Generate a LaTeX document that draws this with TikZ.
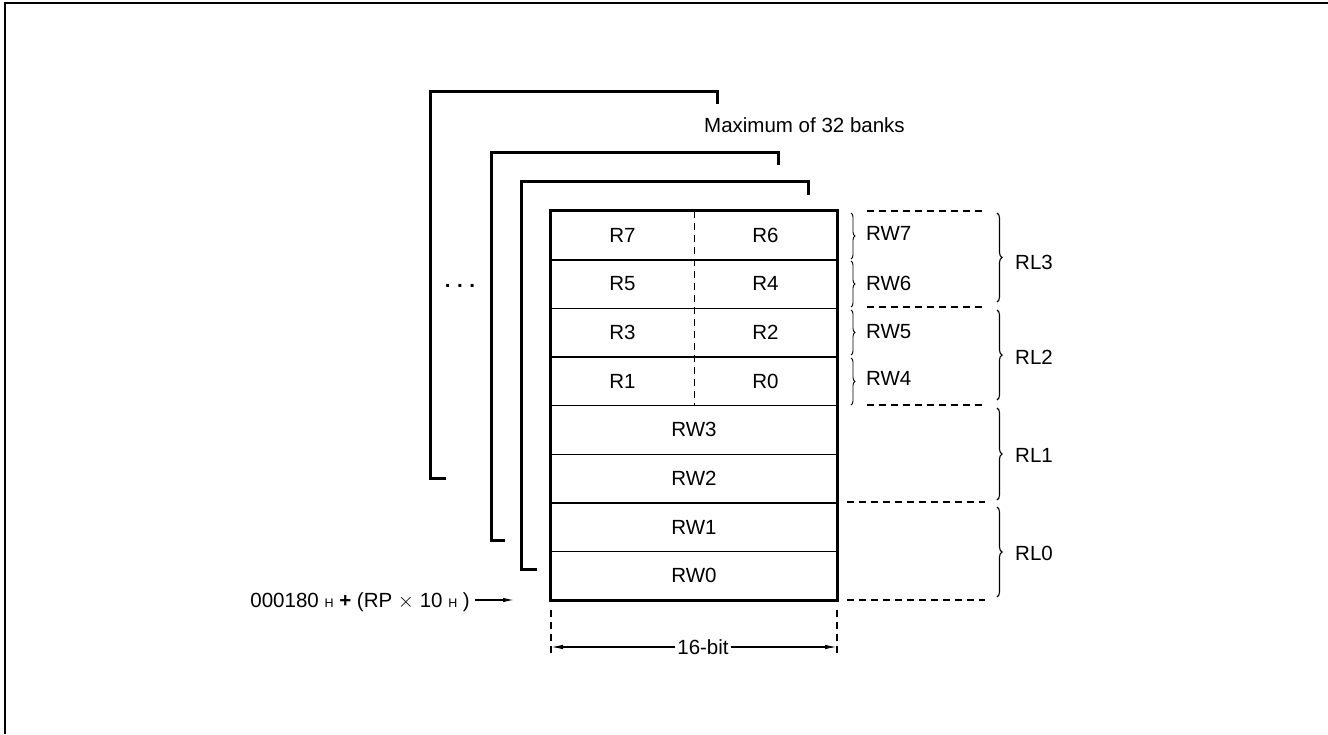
\documentclass[tikz,border=0pt]{standalone}
\usepackage{fontspec}
\setmainfont{Liberation Sans}
\usetikzlibrary{arrows.meta,decorations.pathreplacing}
\newcommand{\hsub}{\fontsize{12.5}{15}\selectfont}

\begin{document}
\begin{tikzpicture}
[x=1pt, y=-1pt,
 every node/.style={inner sep=0pt, font=\fontsize{20.5}{24}\selectfont},
 half/.style={rectangle, minimum width=143pt, minimum height=48.625pt},
 full/.style={rectangle, minimum width=286pt, minimum height=48.625pt},
 rowline/.style={line width=1.5pt},
 boxline/.style={line width=3pt},
 bank/.style={line width=3pt},
 guide/.style={line width=1.4pt, dash pattern=on 7pt off 5pt},
 smallbrace/.style={decorate, decoration={brace, amplitude=4pt}, line width=0.9pt},
 bigbrace/.style={decorate, decoration={brace, amplitude=5pt}, line width=1.1pt},
 dimarrow/.style={line width=1.2pt, -{Latex[length=12pt, width=4.5pt]}}]
\useasboundingbox (0,0) rectangle (1328,734);
\draw [line width=2pt] (5,734) -- (5,3) -- (1328,3);
% banks behind
\draw [bank] (446,478) -- (430,478) -- (430,91) -- (717,91) -- (717,104);
\draw [bank] (505,540) -- (491,540) -- (491,152) -- (778,152) -- (778,165);
\draw [bank] (537,569) -- (521,569) -- (521,181) -- (808,181) -- (808,195);
\node (max) [anchor=west] at (704,125) {Maximum of 32 banks};
\node (dots) [anchor=base] at (460,287) {\textbf{.}\hspace{6.5pt}\textbf{.}\hspace{6.5pt}\textbf{.}};
% register cells
\node (r7) [half] at (622.5, 235.3) {R7};
\node (r6) [half] at (765.5, 235.3) {R6};
\node (r5) [half] at (622.5, 283.9) {R5};
\node (r4) [half] at (765.5, 283.9) {R4};
\node (r3) [half] at (622.5, 332.6) {R3};
\node (r2) [half] at (765.5, 332.6) {R2};
\node (r1) [half] at (622.5, 381.2) {R1};
\node (r0) [half] at (765.5, 381.2) {R0};
\node (rw3) [full] at (694, 429.8) {RW3};
\node (rw2) [full] at (694, 478.4) {RW2};
\node (rw1) [full] at (694, 527.1) {RW1};
\node (rw0) [full] at (694, 575.7) {RW0};
\draw [rowline] (r7.south west) -- (r6.south east);
\draw [rowline] (r5.south west) -- (r4.south east);
\draw [rowline] (r3.south west) -- (r2.south east);
\draw [rowline] (r1.south west) -- (r0.south east);
\draw [rowline] (rw3.south west) -- (rw3.south east);
\draw [rowline] (rw2.south west) -- (rw2.south east);
\draw [rowline] (rw1.south west) -- (rw1.south east);
\draw [line width=1.2pt, dash pattern=on 7pt off 5pt] (r7.north east) -- (r1.south east);
\draw [boxline] (r7.north west) rectangle (rw0.south east);
% pointer
\node (addr) [anchor=base east] at (470,607) {000180 {\hsub H} \textbf{+} (RP $\times$ 10 {\hsub H} )};
\coordinate (ptr) at (514,600);
\draw [line width=1.2pt, -{Latex[length=11pt, width=4.5pt]}, shorten <=5pt] (addr.east |- ptr) -- (ptr);
% width
\draw [guide] (551,610) -- (551,657);
\draw [guide] (837,610) -- (837,657);
\coordinate (wl) at (551,647);
\coordinate (wr) at (837,647);
\node (bits) [inner sep=2pt, fill=white] at (703,647) {16-bit};
\draw [dimarrow] (bits) -- (wl);
\draw [dimarrow] (bits) -- (wr);
% word braces
\draw [smallbrace] (851,213) -- (851,259);
\draw [smallbrace] (851,261) -- (851,307);
\draw [smallbrace] (851,310) -- (851,355);
\draw [smallbrace] (851,358) -- (851,405);
\node (rw7) [anchor=west] at (866,233) {RW7};
\node (rw6) [anchor=west] at (866,283) {RW6};
\node (rw5) [anchor=west] at (866,332) {RW5};
\node (rw4) [anchor=west] at (866,378) {RW4};
% long braces
\draw [guide] (867,211) -- (985,211);
\draw [guide] (867,307) -- (985,307);
\draw [guide] (867,405) -- (985,405);
\draw [guide] (847,502) -- (985,502);
\draw [guide] (847,600) -- (985,600);
\draw [bigbrace] (997,213) -- (997,302);
\draw [bigbrace] (997,310) -- (997,400);
\draw [bigbrace] (997,408) -- (997,500);
\draw [bigbrace] (997,507) -- (997,597);
\node (rl3) [anchor=west] at (1015,262) {RL3};
\node (rl2) [anchor=west] at (1015,357) {RL2};
\node (rl1) [anchor=west] at (1015,455) {RL1};
\node (rl0) [anchor=west] at (1015,553) {RL0};
\end{tikzpicture}
\end{document}
